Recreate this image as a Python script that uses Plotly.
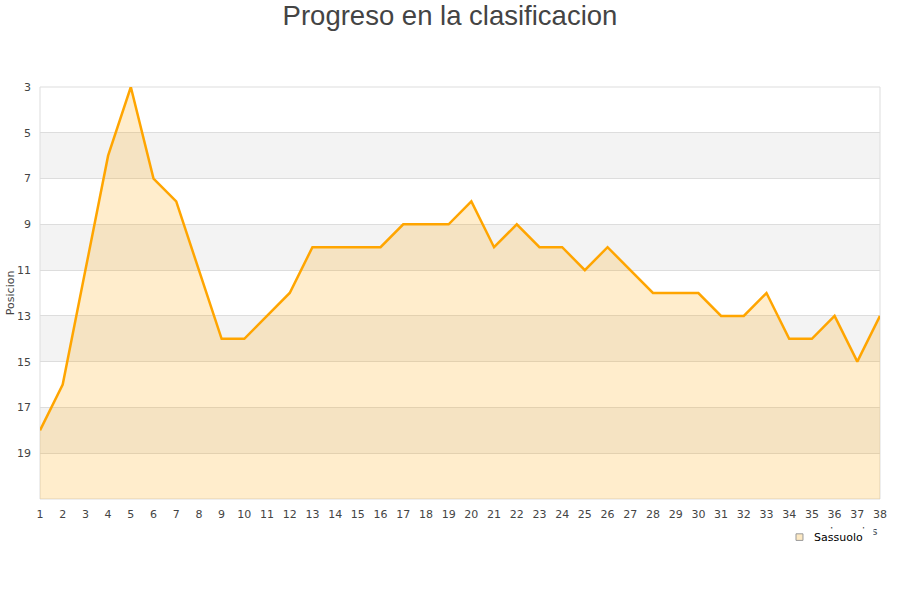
import plotly.graph_objects as go

jornadas = list(range(1, 39))
posicion = [18, 16, 11, 6, 3, 7, 8, 11, 14, 14, 13, 12, 10, 10, 10, 10, 9, 9, 9, 8,
            10, 9, 10, 10, 11, 10, 11, 12, 12, 12, 13, 13, 12, 14, 14, 13, 15, 13]
equipo = "Sassuolo"
x_titulo = "Jornadas"
y_ticks = [3, 5, 7, 9, 11, 13, 15, 17, 19]
y_min, y_max = 3, 21

fig = go.Figure()

# baseline for area fill
fig.add_trace(go.Scatter(x=jornadas, y=[y_max] * len(jornadas), mode="lines",
                         line=dict(width=0), showlegend=False, hoverinfo="skip"))
fig.add_trace(go.Scatter(x=jornadas, y=posicion, mode="lines", fill="tonexty",
                         fillcolor="rgba(255,165,0,0.2)",
                         line=dict(color="#ffa500", width=2.5), showlegend=False,
                         name=equipo))

shapes = []
for i, lo in enumerate(range(y_min, y_max, 2)):
    if i % 2 == 1:
        shapes.append(dict(type="rect", xref="paper", yref="y", x0=0, x1=1,
                           y0=lo, y1=lo + 2, fillcolor="#f3f3f3", line=dict(width=0),
                           layer="below"))
shapes.append(dict(type="rect", xref="paper", yref="paper", x0=0, x1=1, y0=0, y1=1,
                   line=dict(color="#dddddd", width=1), layer="below"))
# legend icon
shapes.append(dict(type="rect", xref="paper", yref="paper", x0=0.9, x1=0.9083,
                   y0=-0.1005, y1=-0.0845, fillcolor="#fde9c3",
                   line=dict(color="#999999", width=1), layer="above"))

fig.update_layout(
    width=900, height=600,
    margin=dict(l=40, r=20, t=87, b=101, autoexpand=False),
    paper_bgcolor="white", plot_bgcolor="white",
    title=dict(text="Progreso en la clasificacion", x=0.5, xanchor="center",
               xref="container", y=0.975, yref="container", yanchor="middle",
               font=dict(family="Liberation Sans, Arial", size=27.5, color="#444444")),
    font=dict(family="DejaVu Sans", size=11, color="#444444"),
    shapes=shapes,
    showlegend=False,
    xaxis=dict(range=[1, 38], tickmode="array", tickvals=jornadas,
               ticktext=[str(j) for j in jornadas], showgrid=False, zeroline=False,
               showline=False, ticks="", automargin=False, ticklabelstandoff=7,
               tickfont=dict(size=11, color="#444444")),
    yaxis=dict(range=[y_max, y_min], tickmode="array", tickvals=y_ticks,
               ticktext=[str(v) for v in y_ticks], showgrid=True, gridcolor="#dddddd",
               gridwidth=1, zeroline=False, showline=False, ticks="",
               ticklabelstandoff=8, automargin=False,
               tickfont=dict(size=11, color="#444444")),
    annotations=[
        dict(text="Posicion", xref="paper", yref="paper", x=-0.0355, y=0.5,
             xanchor="center", yanchor="middle", textangle=-90, showarrow=False,
             font=dict(size=11, color="#444444")),
        dict(text=x_titulo, xref="paper", yref="paper", x=0.9995, y=-0.079,
             xanchor="right", yanchor="middle", showarrow=False,
             font=dict(size=11, color="#444444")),
        dict(text=equipo, xref="paper", yref="paper", x=0.918, y=-0.0925,
             xanchor="left", yanchor="middle", showarrow=False, bgcolor="white",
             borderpad=2, width=57, align="left",
             font=dict(size=11, color="#000000")),
    ],
)

fig.write_html("out.html", config={"displayModeBar": False},
               post_script="document.body.style.margin='0px';")
